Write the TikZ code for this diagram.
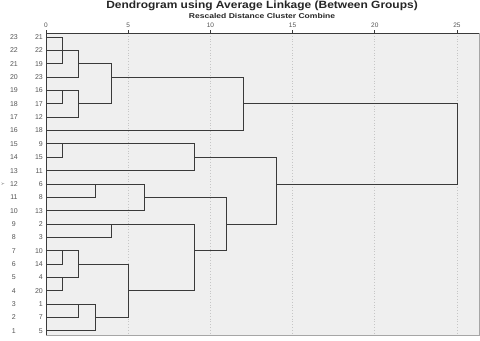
\documentclass[tikz,border=0pt]{standalone}
\usepackage{fontspec}
\setmainfont{Liberation Sans}
\usepackage{xcolor}
\usepackage{graphicx}
\usepackage{tikz}

\definecolor{plotbg}{HTML}{EFEFEF}
\definecolor{linkcol}{HTML}{3A3A3A}
\definecolor{labcol}{HTML}{555555}

\tikzset{
  link/.style={draw=linkcol,line width=0.9pt},
  caselab/.style={anchor=east,inner sep=0pt,xshift=-3pt,font=\fontsize{7}{8}\selectfont,text=labcol},
  rowlab/.style={inner sep=0pt,font=\fontsize{7}{8}\selectfont,text=labcol},
  ticklab/.style={inner sep=0pt,font=\fontsize{6.5}{7}\selectfont,text=labcol},
}

\begin{document}
\begin{tikzpicture}[x=16.44pt,y=-13.36pt]
  \useasboundingbox[fill=white] (-2.798,-2.769) rectangle (26.399,22.754);
  % titles
  \node[font=\bfseries\fontsize{10.5}{11}\selectfont,text=black!85] (title) at (13.14,-2.32) {\scalebox{1.14}[1]{Dendrogram using Average Linkage (Between Groups)}};
  \node[font=\bfseries\fontsize{7}{8}\selectfont,text=black!85] (subtitle) at (13.14,-1.57) {\scalebox{1.22}[1]{Rescaled Distance Cluster Combine}};
  % plot area
  \draw[fill=plotbg,draw=gray!70] (0,-0.3) rectangle (26.34,22.31);
  \foreach \d in {5,10,15,20,25}
    \draw[gray!45,dotted,line width=0.8pt] (\d,-0.3) -- (\d,22.31);
  \draw[linkcol,line width=0.9pt] (0,22.31) -- (0,-0.3) -- (26.34,-0.3);
  \foreach \d in {0,5,...,25}{
    \draw[linkcol,line width=0.8pt] (\d,-0.3) -- (\d,-0.55);
    \node[ticklab] (t\d) at (\d,-0.9) {\d};
  }
  \node[rotate=90,inner sep=0pt,font=\fontsize{4}{4}\selectfont,text=labcol] (ylab) at (-2.62,11) {Y};
  % leaves, top to bottom
  \foreach \lab [count=\i from 0] in {21,22,19,23,16,17,12,18,9,15,11,6,8,13,2,3,10,14,4,20,1,7,5}{
    \pgfmathtruncatemacro\num{23-\i}
    \coordinate (c\lab) at (0,\i);
    \node[caselab] (n\lab) at (c\lab) {\lab};
    \node[rowlab] (y\num) at (-1.95,\i) {\num};
  }
  % joins
  \draw[link] (c21) -| (1,2) -- (c19);
  \draw[link] (c22) -| (2,3) -- (c23);
  \coordinate (j1) at (2,2);
  \draw[link] (c16) -| (1,5) -- (c17);
  \draw[link] (c16) -| (2,6) -- (c12);
  \coordinate (j2) at (2,5);
  \draw[link] (j1) -| (4,5) -- (j2);
  \coordinate (j3) at (4,3);
  \draw[link] (j3) -| (12,7) -- (c18);
  \coordinate (j4) at (12,5);
  \draw[link] (c9) -| (1,9) -- (c15);
  \draw[link] (c9) -| (9,10) -- (c11);
  \coordinate (j5) at (9,9);
  \draw[link] (c6) -| (3,12) -- (c8);
  \draw[link] (c6) -| (6,13) -- (c13);
  \coordinate (j6) at (6,12);
  \draw[link] (c2) -| (4,15) -- (c3);
  \coordinate (j7) at (4,14);
  \draw[link] (c10) -| (1,17) -- (c14);
  \draw[link] (c4) -| (1,19) -- (c20);
  \draw[link] (c10) -| (2,18) -- (c4);
  \coordinate (j8) at (2,17);
  \draw[link] (c1) -| (2,21) -- (c7);
  \draw[link] (c1) -| (3,22) -- (c5);
  \coordinate (j9) at (3,21);
  \draw[link] (j8) -| (5,21) -- (j9);
  \coordinate (j10) at (5,19);
  \draw[link] (j7) -| (9,19) -- (j10);
  \coordinate (j11) at (9,16);
  \draw[link] (j6) -| (11,16) -- (j11);
  \coordinate (j12) at (11,14);
  \draw[link] (j5) -| (14,14) -- (j12);
  \coordinate (j13) at (14,11);
  \draw[link] (j4) -| (25,11) -- (j13);
\end{tikzpicture}
\end{document}
